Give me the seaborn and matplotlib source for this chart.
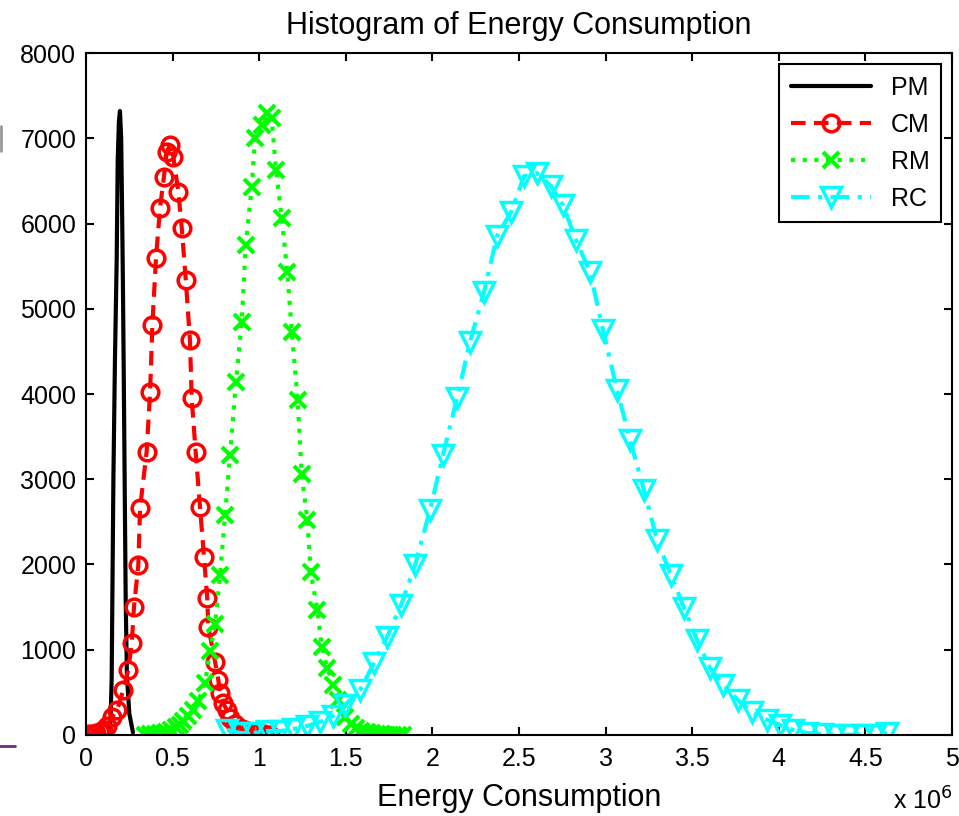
import numpy as np
import pandas as pd
import seaborn as sns
import matplotlib.pyplot as plt
from matplotlib.lines import Line2D

# Energy values are in units of 1e6
pm_x = [0.139, 0.148, 0.158, 0.167, 0.177, 0.183, 0.190, 0.196, 0.203, 0.208, 0.213, 0.218, 0.223, 0.229, 0.236, 0.250, 0.271]
pm_y = [0, 645, 2990, 4400, 5570, 6745, 7200, 7320, 7000, 6200, 5300, 4200, 3000, 1600, 700, 250, 30]

cm_x = [0.00, 0.02, 0.04, 0.06, 0.08, 0.10, 0.12, 0.15, 0.18, 0.215, 0.244, 0.264, 0.277, 0.302,
        0.312, 0.350, 0.370, 0.383, 0.404, 0.427, 0.450, 0.466, 0.485, 0.504, 0.533, 0.553, 0.576,
        0.600, 0.610, 0.633, 0.658, 0.681, 0.700, 0.706, 0.745, 0.764, 0.774, 0.793, 0.812, 0.83,
        0.86, 0.89, 0.92, 0.95, 0.99, 1.03, 1.06]
cm_y = [5, 8, 12, 20, 35, 60, 110, 215, 293, 528, 762, 1075, 1505, 1994,
        2659, 3323, 4027, 4809, 5592, 6178, 6549, 6842, 6921, 6784, 6373, 5944, 5337,
        4633, 3950, 3323, 2678, 2092, 1603, 1271, 860, 645, 490, 372, 293, 200,
        130, 85, 55, 35, 20, 10, 5]

rm_x = [0.34, 0.37, 0.40, 0.43, 0.46, 0.49, 0.52, 0.545, 0.562, 0.590, 0.620, 0.648, 0.687, 0.716,
        0.745, 0.774, 0.803, 0.831, 0.866, 0.899, 0.922, 0.957, 0.976, 1.014, 1.043, 1.072, 1.097,
        1.130, 1.162, 1.188, 1.222, 1.245, 1.278, 1.297, 1.336, 1.361, 1.393, 1.428, 1.457, 1.495,
        1.53, 1.56, 1.59, 1.62, 1.65, 1.68, 1.71, 1.74, 1.77, 1.80, 1.83]
rm_y = [5, 10, 15, 25, 40, 60, 90, 120, 160, 220, 293, 400, 606, 987,
        1300, 1877, 2580, 3280, 4144, 4848, 5748, 6432, 7000, 7155, 7293, 7234, 6628,
        6061, 5435, 4731, 3930, 3060, 2522, 1916, 1466, 1036, 782, 587, 410, 215,
        130, 80, 50, 30, 20, 12, 8, 5, 3, 2, 1]

rc_x = [0.814, 0.889, 0.964, 1.045, 1.120, 1.195, 1.276, 1.351, 1.426, 1.495, 1.582, 1.663, 1.738,
        1.819, 1.900, 1.986, 2.061, 2.142, 2.217, 2.298, 2.373, 2.454, 2.529, 2.604, 2.685, 2.754,
        2.829, 2.910, 2.985, 3.066, 3.141, 3.222, 3.297, 3.378, 3.453, 3.528, 3.603, 3.678, 3.764,
        3.845, 3.932, 4.007, 4.082, 4.163, 4.249, 4.324, 4.400, 4.486, 4.555, 4.625]
rc_y = [59, 23, 23, 47, 47, 70, 106, 153, 223, 352, 528, 845, 1150,
        1525, 1994, 2639, 3284, 3953, 4610, 5197, 5853, 6135, 6557, 6592, 6440, 6217,
        5806, 5431, 4751, 4047, 3460, 2874, 2287, 1877, 1490, 1114, 786, 587, 411,
        270, 176, 117, 59, 23, 10, 5, 3, 2, 1, 23]

x_ticks = [0, 0.5, 1, 1.5, 2, 2.5, 3, 3.5, 4, 4.5, 5]
x_tick_labels = ['0', '0.5', '1', '1.5', '2', '2.5', '3', '3.5', '4', '4.5', '5']
y_ticks = [0, 1000, 2000, 3000, 4000, 5000, 6000, 7000, 8000]

sns.set_style("white")
plt.rcParams['font.family'] = ['Liberation Sans', 'DejaVu Sans']
plt.rcParams['text.color'] = 'black'
plt.rcParams['axes.labelcolor'] = 'black'

fig = plt.figure(figsize=(9.59, 8.16), dpi=100)
ax = fig.add_axes([0.0897, 0.0993, 0.9030, 0.8357])

sns.lineplot(x=pm_x, y=pm_y, ax=ax, color='black', lw=3, ls='-',
             sort=False, estimator=None, label='PM')
sns.lineplot(x=cm_x, y=cm_y, ax=ax, color='red', lw=3, ls=(0, (3.5, 2)),
             marker='o', ms=12, mfc='none', mec='red', mew=2.5,
             sort=False, estimator=None, label='CM')
sns.lineplot(x=rm_x, y=rm_y, ax=ax, color='#00ff00', lw=3, ls=(0, (1, 1.8)),
             marker='x', ms=12, mec='#00ff00', mew=3,
             sort=False, estimator=None, label='RM')
sns.lineplot(x=rc_x, y=rc_y, ax=ax, color='cyan', lw=3, ls=(0, (4.5, 2, 1, 2)),
             marker='v', ms=14, mfc='none', mec='cyan', mew=2.5,
             sort=False, estimator=None, label='RC')

ax.set_xlim(0, 5)
ax.set_ylim(0, 8000)
ax.set_xticks(x_ticks)
ax.set_xticklabels(x_tick_labels)
ax.set_yticks(y_ticks)
ax.tick_params(direction='in', length=6, width=1.5, labelsize=18, pad=7,
               top=True, right=True, bottom=True, left=True, colors='black')
ax.tick_params(axis='x', pad=9)
for s in ax.spines.values():
    s.set_linewidth(1.5)
    s.set_color('black')
    s.set_visible(True)

ax.set_title('Histogram of Energy Consumption', fontsize=22, pad=14)
ax.set_xlabel('Energy Consumption', fontsize=22, labelpad=8)
ax.set_ylabel('')

leg = ax.legend(loc='upper right', fontsize=18, frameon=True, fancybox=False,
                edgecolor='black', handlelength=3.2, borderaxespad=0.45,
                labelspacing=0.52, borderpad=0.45)
leg.get_frame().set_linewidth(1.5)
leg.get_frame().set_alpha(1)

fig.text(0.931, 0.002, r'x 10$^{6}$', fontsize=18, ha='left', va='bottom')

# slide artifacts on the left edge
fig.add_artist(Line2D([0.0, 0.016], [0.086, 0.086], color='#6a2c7a', lw=2))
fig.add_artist(Line2D([0.001, 0.001], [0.815, 0.845], color='#999999', lw=2))

plt.savefig('out.png', dpi=100)
